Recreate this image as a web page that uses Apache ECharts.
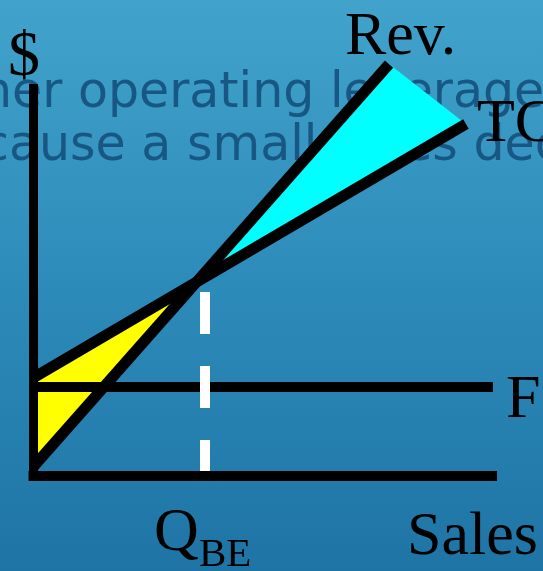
<!DOCTYPE html>
<html>
<head>
<meta charset="utf-8">
<script src="https://cdn.jsdelivr.net/npm/echarts@6/dist/echarts.min.js"></script>
<style>
html,body{margin:0;padding:0;background:#2e8bb9;}
#chart{width:543px;height:571px;}
</style>
</head>
<body>
<div id="chart"></div>
<script>
// Values (sales units on x, dollars on y)
var revenue   = [[0.0, 0.52], [20.70, 23.95]];
var totalCost = [[0.0, 5.70], [25.17, 20.47]];
var fixedCost = [[0.0, 5.17], [26.74, 5.17]];
var breakEvenQ = 10.0;
var breakEvenLine = [[breakEvenQ, 10.70], [breakEvenQ, -0.23]];
var axisXLine = [[-0.26, 0], [26.98, 0]];
var axisYLine = [[0.03, -0.29], [0.03, 22.79]];
var labels = { dollar: '$', rev: 'Rev.', tc: 'TC', f: 'F', q: 'Q', qSub: 'BE', sales: 'Sales' };
var bgLines = ['her operating leverage', 'cause a small sales decrease'];

// intersection of the revenue and total cost lines
function lineAt(l, x){ var a=l[0], b=l[1]; return a[1] + (b[1]-a[1])*(x-a[0])/(b[0]-a[0]); }
var sr = (revenue[1][1]-revenue[0][1])/(revenue[1][0]-revenue[0][0]);
var st = (totalCost[1][1]-totalCost[0][1])/(totalCost[1][0]-totalCost[0][0]);
var ix = (totalCost[0][1]-revenue[0][1])/(sr-st);
var cross = [ix, lineAt(revenue, ix)];
var lossArea = [totalCost[0], revenue[0], cross];
var profitArea = [cross, revenue[1], totalCost[1]];

function poly(pts, color){
  return {
    type: 'custom', silent: true, z: 1,
    data: pts,
    renderItem: function(params, api){
      if (params.dataIndex !== 0) return;
      return { type: 'polygon', shape: { points: pts.map(function(p){ return api.coord(p); }) }, style: { fill: color } };
    }
  };
}
function seg(d, color, w, dash){
  return { type: 'line', data: d, symbol: 'none', silent: true, z: 3,
    lineStyle: { color: color, width: w, cap: 'butt', type: dash || 'solid' } };
}

var chart = echarts.init(document.getElementById('chart'), null, {renderer: 'canvas'});
var serif = '"Liberation Serif","Times New Roman",serif';
function txt(t, x, y, size, z){
  return { type: 'text', left: x, top: y, z: z || 100, silent: true,
    style: { text: t, fill: '#000', font: size + 'px ' + serif } };
}
chart.setOption({
  animation: false,
  backgroundColor: { type: 'linear', x: 0, y: 0, x2: 0, y2: 1,
    colorStops: [{offset: 0, color: '#41a3cb'}, {offset: 0.5, color: '#2d8bb9'}, {offset: 1, color: '#1e74a5'}] },
  grid: { left: 33, right: 11.2, top: 11.6, bottom: 95 },
  xAxis: { type: 'value', min: 0, max: 29, show: false },
  yAxis: { type: 'value', min: 0, max: 27, show: false },
  graphic: [
    { type: 'text', x: -19, y: 70, z: -10, silent: true, style: { text: bgLines[0], fill: '#15507c', opacity: 0.9, font: '49px "DejaVu Sans"' } },
    { type: 'text', x: -18, y: 123, z: -10, silent: true, style: { text: bgLines[1], fill: '#15507c', opacity: 0.9, font: '49px "DejaVu Sans"' } },
    txt(labels.dollar, 8, 26, 64),
    txt(labels.rev, 345, 7, 62),
    txt(labels.tc, 477, 94, 62),
    txt(labels.f, 506, 370, 62),
    txt(labels.q, 154, 503, 62),
    txt(labels.qSub, 199, 535, 41),
    txt(labels.sales, 407, 507, 62)
  ],
  series: [
    poly(lossArea, '#ffff00'),
    poly(profitArea, '#00ffff'),
    seg(fixedCost, '#000', 10),
    seg(revenue, '#000', 11),
    seg(totalCost, '#000', 11),
    seg(breakEvenLine, '#ffffff', 10, [42, 32]),
    seg(axisXLine, '#000', 10),
    seg(axisYLine, '#000', 9)
  ]
});
</script>
</body>
</html>
